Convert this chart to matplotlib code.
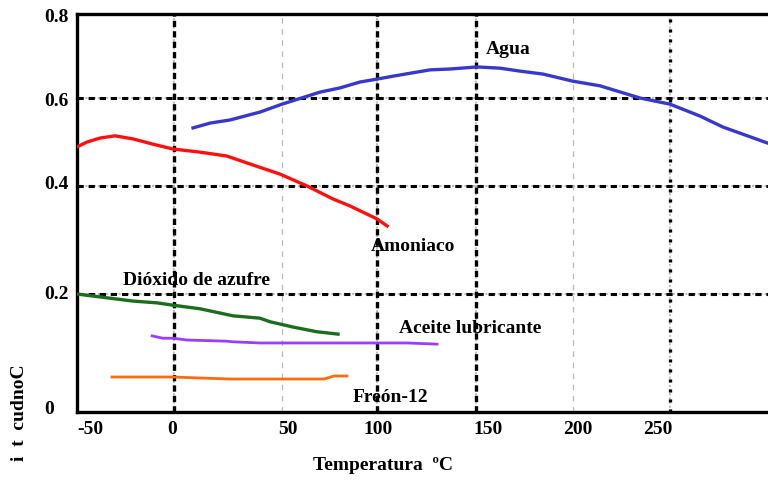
import matplotlib as mpl
import matplotlib.pyplot as plt
from matplotlib.transforms import ScaledTranslation
import numpy as np

mpl.rcParams['font.family'] = 'Liberation Serif'
mpl.rcParams['font.weight'] = 'bold'
mpl.rcParams['lines.scale_dashes'] = False

# data (temperature in C, conductivity)
agua_t = [8.8, 16.7, 25.9, 39.8, 50, 70, 80.5, 91, 100, 108.1, 126.8, 136.9, 150.5,
          162.4, 172.7, 184.5, 200, 213.9, 234.5, 250, 265.3, 277, 299.5]
agua_k = [0.532, 0.543, 0.550, 0.568, 0.586, 0.614, 0.624, 0.638, 0.645, 0.652, 0.667,
          0.669, 0.674, 0.671, 0.664, 0.657, 0.640, 0.629, 0.600, 0.586, 0.559, 0.534, 0.498]
amon_t = [-50, -44.8, -38.1, -30.4, -21.1, -10.8, -0.5, 12.0, 24.5, 35.2, 49.1, 63.2,
          76.8, 85.8, 100, 105.1]
amon_k = [0.489, 0.500, 0.509, 0.514, 0.507, 0.495, 0.484, 0.477, 0.468, 0.450, 0.427,
          0.400, 0.376, 0.363, 0.339, 0.326]
so2_t = [-50, -38.1, -21.1, -8.8, -0.5, 12.0, 27.3, 39.8, 44.4, 55.8, 68.4, 79.5]
so2_k = [0.200, 0.195, 0.188, 0.185, 0.181, 0.175, 0.163, 0.159, 0.153, 0.144, 0.136, 0.132]
aceite_t = [-11.3, -5.7, -0.5, 6.0, 24.5, 27.3, 39.8, 100, 115.2, 130.3]
aceite_k = [0.129, 0.125, 0.125, 0.122, 0.120, 0.119, 0.117, 0.117, 0.117, 0.115]
freon_t = [-32.0, -0.5, 12.0, 25.9, 72.1, 77.4, 84.2]
freon_k = [0.0593, 0.0593, 0.0576, 0.0559, 0.0559, 0.0610, 0.0610]

xticks = [-50, 0, 50, 100, 150, 200, 250]
yticks = [0, 0.2, 0.4, 0.6, 0.8]
ytick_labels = ['0', '0.2', '0.4', '0.6', '0.8']

# the original scan is not evenly spaced: piecewise scales
xs_d = np.array([-50, 0, 50, 100, 150, 200, 250, 300])
xs_p = np.array([77, 174, 282, 377, 476, 573, 670, 768], dtype=float)
ys_d = np.array([0, 0.2, 0.4, 0.6, 0.8])
ys_p = -np.array([413, 295, 187, 99, 15], dtype=float)

fx = lambda v: np.interp(v, xs_d, xs_p)
ix = lambda v: np.interp(v, xs_p, xs_d)
fy = lambda v: np.interp(v, ys_d, ys_p)
iy = lambda v: np.interp(v, ys_p, ys_d)

fig = plt.figure(figsize=(7.68, 4.81), dpi=100)
ax = fig.add_axes([77/768, 68/481, 691/768, 398/481])
ax.set_xscale('function', functions=(fx, ix))
ax.set_yscale('function', functions=(fy, iy))
ax.set_xlim(-50, 300)
ax.set_ylim(0, 0.8)

# grid
for v in [0.2, 0.4, 0.6]:
    ax.axhline(v, color='#b0b0b0', lw=1.2, ls=(0, (1.5, 1.5)), zorder=1)
    ax.axhline(v, color='k', lw=2.2, ls=(0, (4.5, 3.5)), zorder=1.5)
for v in [0, 100, 150]:
    ax.axvline(v, color='#b0b0b0', lw=1.2, ls=(0, (1.5, 1.5)), zorder=1)
    ax.axvline(v, color='k', lw=2.4, ls=(0, (4.5, 3)), zorder=1.5)
ax.axvline(250, color='#b0b0b0', lw=1.2, ls=(0, (1.5, 1.5)), zorder=1)
ax.axvline(250, color='k', lw=2.4, ls=(0, (2.2, 5)), zorder=1.5)
for v in [50, 200]:
    ax.axvline(v, color='#b8b8b8', lw=0.9, ls=(0, (4, 4)), zorder=1)

ax.plot(agua_t, agua_k, color='#3838cc', lw=2.4, zorder=3)
ax.plot(amon_t, amon_k, color='#ff1010', lw=2.4, zorder=3)
ax.plot(so2_t, so2_k, color='#1c6e1c', lw=2.4, zorder=3)
ax.plot(aceite_t, aceite_k, color='#9c3cff', lw=2.0, zorder=3)
ax.plot(freon_t, freon_k, color='#ff6a10', lw=2.0, zorder=3)

fs = 14
ax.text(166.5, 0.717, 'Agua', fontsize=fs, ha='center', va='center')
ax.text(118.2, 0.289, 'Amoniaco', fontsize=fs, ha='center', va='center')
ax.text(10.2, 0.226, 'Dióxido de azufre', fontsize=fs, ha='center', va='center')
ax.text(147, 0.144, 'Aceite lubricante', fontsize=fs, ha='center', va='center')
ax.text(106.6, 0.027, 'Freón-12', fontsize=fs, ha='center', va='center')

for s in ['left', 'bottom', 'top']:
    ax.spines[s].set_linewidth(2.4)
ax.spines['right'].set_visible(False)

ax.set_xticks(xticks)
ax.set_xticklabels([str(t) for t in xticks], fontsize=fs)
ax.set_yticks(yticks)
ax.set_yticklabels(ytick_labels, fontsize=fs)
ax.tick_params(length=0, pad=6)

# the scan's labels sit a little off the grid
xoff = [13, -2, 6, 1, 12, 5, -12]
for lab, dx in zip(ax.get_xticklabels(), xoff):
    lab.set_transform(lab.get_transform() + ScaledTranslation(dx/100, 0, fig.dpi_scale_trans))
yoff = [(-15, 5), (0, 2), (0, 4), (0, 0), (0, 0)]
for lab, (dx, dy) in zip(ax.get_yticklabels(), yoff):
    lab.set_transform(lab.get_transform() + ScaledTranslation(dx/100, dy/100, fig.dpi_scale_trans))

fig.text(383/768, 1 - 466/481, 'Temperatura  ºC', fontsize=fs, ha='center', va='center')
fig.text(20/768, 1 - 413/481, 'i  t  cudnoC', fontsize=fs, rotation=90, ha='center', va='center')

plt.savefig('out.png', dpi=100)
